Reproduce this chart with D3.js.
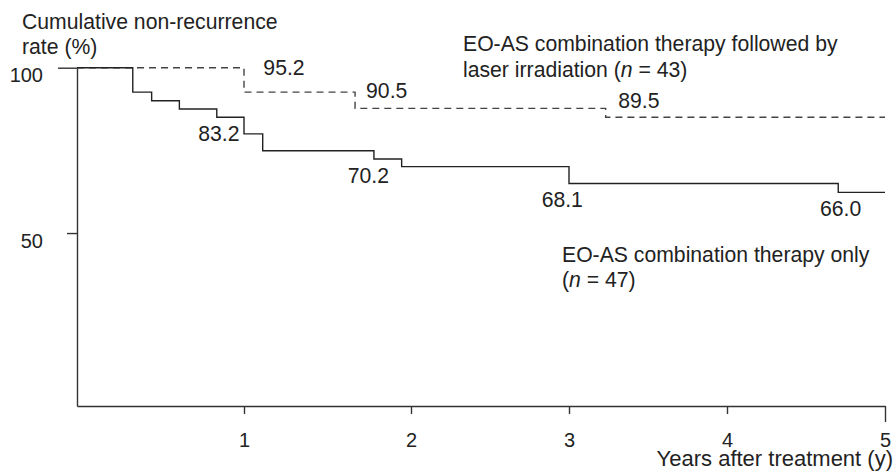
<!DOCTYPE html>
<html>
<head>
<meta charset="utf-8">
<script src="https://cdn.jsdelivr.net/npm/d3@7"></script>
<style>
  body { margin: 0; background: #fff; }
  text { font-family: "Liberation Sans", Arial, Helvetica, sans-serif; fill: #222; }
</style>
</head>
<body>
<script>
'use strict';

// combination therapy only (solid line), years after treatment / rate (%)
const soloYears = [0, 0.334, 0.447, 0.613, 0.837, 1.0, 1.112, 1.778, 1.944, 3.0, 4.704, 5];
const soloRates = [100, 92.6, 90.0, 87.5, 85.0, 80.0, 74.9, 72.4, 70.1, 65.0, 62.3, 62.3];

// combination therapy followed by laser (dashed line)
const laserYears = [0, 1.0, 1.665, 3.232, 5];
const laserRates = [100, 92.6, 87.7, 85.0, 85.0];

// numbers written on the chart, with the (year, rate) where they sit
const noteTexts = ["95.2", "90.5", "89.5", "83.2", "70.2", "68.1", "66.0"];
const noteYears = [1.116, 1.731, 3.312, 0.726, 1.621, 2.827, 4.589];
const noteRates = [97.8, 90.75, 87.9, 77.9, 65.2, 58.0, 55.25];

const xTicks = [1, 2, 3, 4, 5];
const yTicks = [100, 50];

(function() {

  let svgContainer = "";
  const labelSize = '21.2px';

  window.onload = function() {
    svgContainer = d3.select('body')
      .append('svg')
      .attr('width', 894)
      .attr('height', 473);
    makeChart();
  }

  function makeChart() {
    // the printed x axis is not quite even, so a piecewise scale
    let xScale = d3.scaleLinear()
      .domain([0, 2, 5])
      .range([77, 411, 885]);

    // plot floor sits a little below 0
    let yScale = d3.scaleLinear()
      .domain([-2.3, 100])
      .range([406, 67.7]);

    drawAxes(xScale, yScale);
    plotCurves(xScale, yScale);
    makeLabels(xScale, yScale);
  }

  function drawAxes(xScale, yScale) {
    let xAxis = d3.axisBottom(xScale)
      .tickValues(xTicks)
      .tickSize(8)
      .tickSizeOuter(0)
      .tickFormat(d3.format('d'));
    let gx = svgContainer.append('g')
      .attr('transform', 'translate(0,' + yScale(-2.3) + ')')
      .call(xAxis);
    gx.selectAll('text')
      .attr('y', 41)
      .attr('dy', 0)
      .style('font-size', '20px');
    // last tick is drawn longer
    gx.selectAll('.tick line').filter(d => d === 5).attr('y2', 16);

    let yAxis = d3.axisLeft(yScale)
      .tickValues(yTicks)
      .tickSize(10)
      .tickSizeOuter(0);
    let gy = svgContainer.append('g')
      .attr('transform', 'translate(' + xScale(0) + ',0)')
      .call(yAxis);
    gy.selectAll('text')
      .attr('x', -34)
      .attr('dy', 14)
      .style('font-size', '20px');
    gy.selectAll('.tick line').filter(d => d === 100).attr('x2', -19);

    svgContainer.selectAll('.domain, .tick line')
      .attr('stroke', '#333')
      .attr('stroke-width', 1.4);
  }

  function plotCurves(xScale, yScale) {
    const line = d3.line()
      .x(d => xScale(d[0]))
      .y(d => yScale(d[1]))
      .curve(d3.curveStepAfter);

    svgContainer.append('path')
      .datum(d3.zip(laserYears, laserRates))
      .attr('d', line)
      .attr('fill', 'none')
      .attr('stroke', '#444')
      .attr('stroke-width', 1.4)
      .attr('stroke-dasharray', '7,5');

    svgContainer.append('path')
      .datum(d3.zip(soloYears, soloRates))
      .attr('d', line)
      .attr('fill', 'none')
      .attr('stroke', '#222')
      .attr('stroke-width', 1.4);
  }

  function makeLabels(xScale, yScale) {
    svgContainer.selectAll('.note')
      .data(noteTexts)
      .enter()
      .append('text')
      .attr('class', 'note')
      .attr('x', (d, i) => xScale(noteYears[i]))
      .attr('y', (d, i) => yScale(noteRates[i]))
      .style('font-size', labelSize)
      .text(d => d);

    // y axis title
    let yTitle = svgContainer.append('text')
      .attr('x', 22)
      .attr('y', 29)
      .style('font-size', labelSize);
    yTitle.append('tspan').text('Cumulative non-recurrence');
    yTitle.append('tspan').attr('x', 22).attr('dy', 24.5).text('rate (%)');

    // x axis title
    svgContainer.append('text')
      .attr('x', 893)
      .attr('y', 466)
      .attr('text-anchor', 'end')
      .style('font-size', '22px')
      .text('Years after treatment (y)');

    // series names
    let laserName = svgContainer.append('text')
      .attr('x', 463)
      .attr('y', 50.5)
      .style('font-size', labelSize);
    laserName.append('tspan').text('EO-AS combination therapy followed by');
    let l2 = laserName.append('tspan').attr('x', 463).attr('dy', 26);
    l2.append('tspan').text('laser irradiation (');
    l2.append('tspan').style('font-style', 'italic').text('n');
    l2.append('tspan').text(' = 43)');

    let soloName = svgContainer.append('text')
      .attr('x', 562)
      .attr('y', 261.5)
      .style('font-size', labelSize);
    soloName.append('tspan').text('EO-AS combination therapy only');
    let s2 = soloName.append('tspan').attr('x', 562).attr('dy', 25);
    s2.append('tspan').text('(');
    s2.append('tspan').style('font-style', 'italic').text('n');
    s2.append('tspan').text(' = 47)');
  }
})();
</script>
</body>
</html>
